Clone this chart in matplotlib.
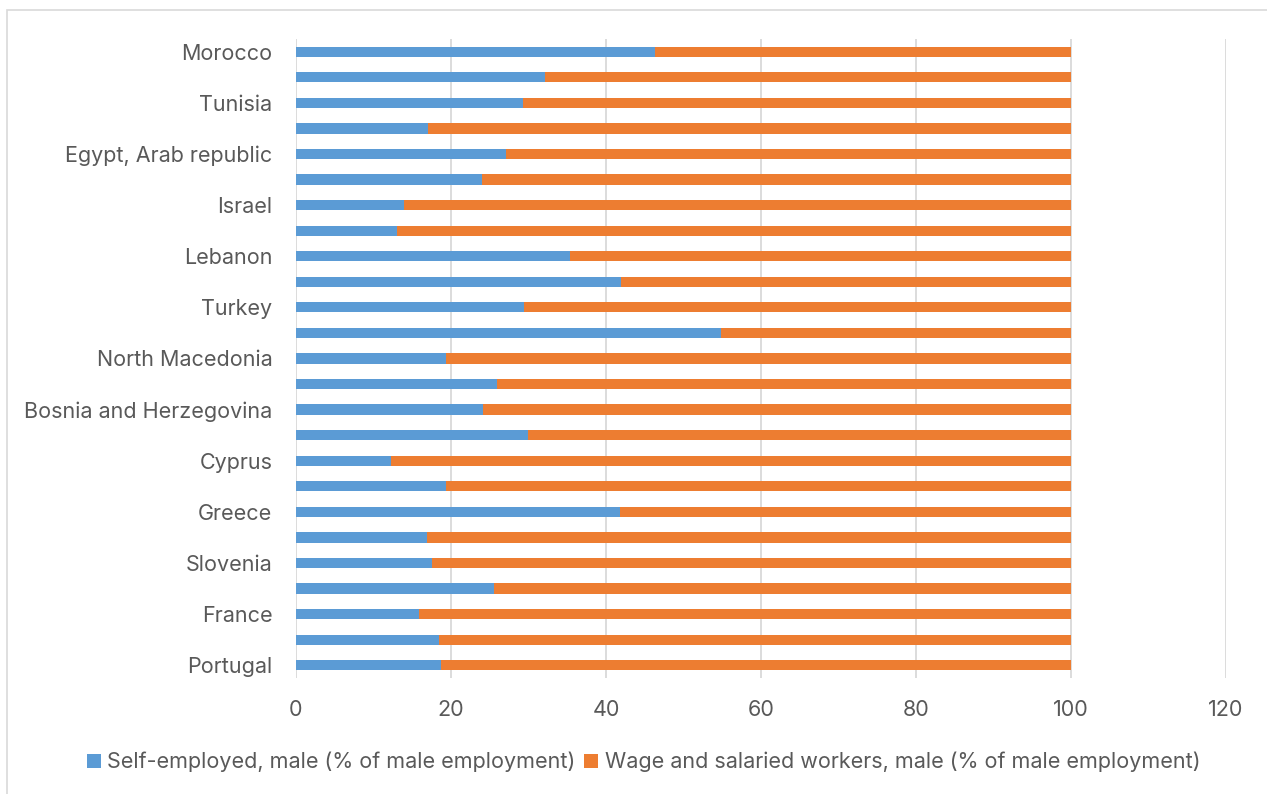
import matplotlib.pyplot as plt
import matplotlib.patches as mpatches

# categories listed bottom -> top (as Excel draws them)
countries = ['Portugal', 'Spain', 'France', 'Italy', 'Slovenia', 'Croatia', 'Greece',
             'Malta', 'Cyprus', 'Montenegro', 'Bosnia and Herzegovina', 'Serbia',
             'North Macedonia', 'Albania', 'Turkey', 'Syria', 'Lebanon', 'Jordan',
             'Israel', 'West Bank and Gaza', 'Egypt, Arab republic', 'Libya',
             'Tunisia', 'Algeria', 'Morocco']
self_employed = [18.7, 18.4, 15.9, 25.5, 17.5, 16.9, 41.8, 19.3, 12.3, 29.9, 24.1, 25.9,
                 19.4, 54.8, 29.4, 41.9, 35.4, 13.1, 13.9, 24.0, 27.1, 17.1, 29.3, 32.1, 46.3]
wage_salaried = [100 - v for v in self_employed]

blue = '#5b9bd5'
orange = '#ed7d31'
grey_txt = '#595959'

plt.rcParams['font.family'] = ['Inter', 'DejaVu Sans']

fig = plt.figure(figsize=(12.67, 7.94), dpi=100)
ax = fig.add_axes([0.2336, 0.1461, 0.7340, 0.8048])

y = range(len(countries))
ax.barh(y, self_employed, height=0.4, color=blue, label='Self-employed, male (% of male employment)')
ax.barh(y, wage_salaried, left=self_employed, height=0.4, color=orange,
        label='Wage and salaried workers, male (% of male employment)')

ax.set_xlim(0, 120)
ax.set_ylim(-0.5, len(countries) - 0.5)
ax.set_xticks(range(0, 121, 20))
ax.set_yticks(list(y)[::2])
ax.set_yticklabels(countries[::2])
ax.tick_params(axis='both', length=0, colors=grey_txt, labelsize=15.5)
ax.tick_params(axis='y', pad=17)
ax.tick_params(axis='x', pad=16)

ax.grid(axis='x', color='#d9d9d9', linewidth=1.3)
ax.set_axisbelow(True)
for s in ax.spines.values():
    s.set_visible(False)

fig.legend(loc='center', bbox_to_anchor=(0.508, 0.040), ncol=2, frameon=False,
           fontsize=15.5, labelcolor=grey_txt, handlelength=0.65, handleheight=0.65,
           handletextpad=0.3, columnspacing=0.4)

# chart border
fig.patches.append(mpatches.Rectangle((7 / 1267, -0.05), 1.2, 1.05 - 10 / 794,
                                      transform=fig.transFigure, fill=False,
                                      edgecolor='#d9d9d9', linewidth=1.2))

fig.savefig('out.png', dpi=100)
